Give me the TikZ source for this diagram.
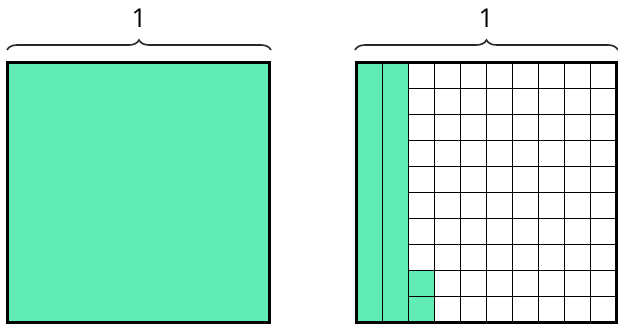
\documentclass[tikz,border=0pt]{standalone}
\usepackage{fontspec}
\setmainfont{Open Sans}
\usetikzlibrary{decorations.pathreplacing}
\definecolor{mint}{RGB}{96,236,180}
\definecolor{bracegray}{RGB}{40,40,40}
\begin{document}
\begin{tikzpicture}[x=1pt,y=1pt,
  whole/.style={draw=black,line width=3pt,fill=mint},
  gridline/.style={draw=black,line width=1.6pt},
  outline/.style={draw=black,line width=3pt},
  bracestyle/.style={draw=bracegray,line width=1.6pt,decorate,decoration={brace,amplitude=10pt}},
  label/.style={font=\fontsize{26}{30}\selectfont,anchor=base,inner sep=0pt}]
\useasboundingbox (0,0) rectangle (618,327);
% left whole square
\node[whole,minimum width=262pt,minimum height=260pt,inner sep=0pt,outer sep=0pt] (sq) at (138.5,134.5) {};
% right grid
\coordinate (g0) at (356.5,4.5);
\fill[mint] (356.5,4.5) rectangle (408.5,264.5);
\fill[mint] (408.5,4.5) rectangle (434.5,56.5);
\foreach \i in {3,...,9} {
  \draw[gridline] ({356.5+26*\i},4.5) -- ({356.5+26*\i},264.5);
}
\draw[gridline] (382.5,4.5) -- (382.5,264.5);
\draw[gridline] (408.5,4.5) -- (408.5,264.5);
\foreach \j in {1,...,9} {
  \draw[gridline] (408.5,{4.5+26*\j}) -- (616.5,{4.5+26*\j});
}
\node[outline,minimum width=260pt,minimum height=260pt,inner sep=0pt,outer sep=0pt] (grid) at (486.5,134.5) {};
% braces
\coordinate (lb1) at (7,277);
\coordinate (lb2) at (271,277);
\coordinate (rb1) at (355,277);
\coordinate (rb2) at (618,277);
\draw[bracestyle] (lb1) -- (lb2);
\draw[bracestyle] (rb1) -- (rb2);
\node[label] (l1) at (139,299) {1};
\node[label] (l2) at (486,299) {1};
\end{tikzpicture}
\end{document}
